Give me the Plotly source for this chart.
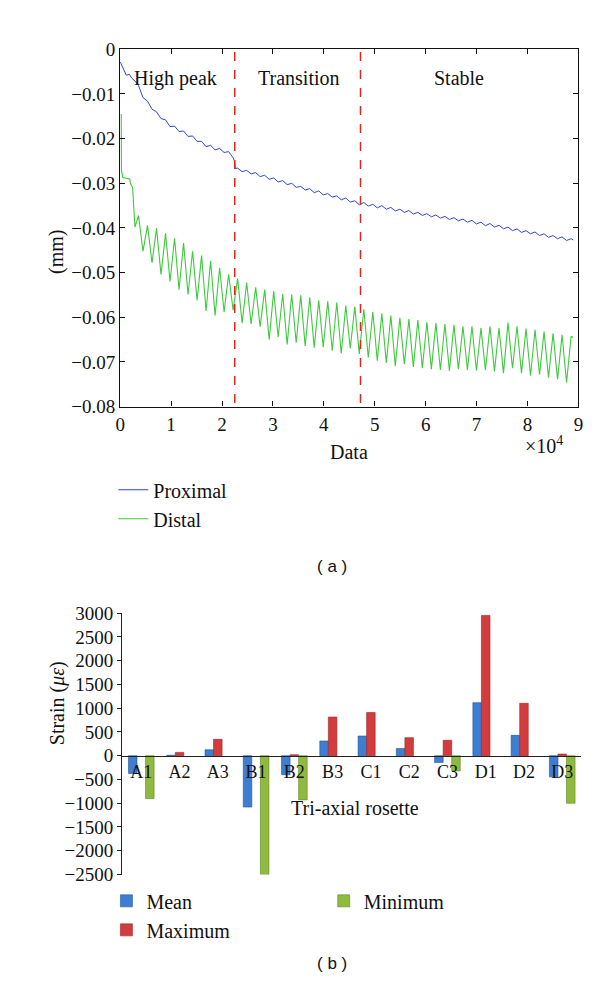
import plotly.graph_objects as go

SERIF = "Liberation Serif"
SANS = "Liberation Sans"

# ---------------- (a) displacement vs data (x in units of 1e4) ----------------
cycle_peak_x = [0.36, 0.537, 0.714, 0.891, 1.068, 1.245, 1.422, 1.599, 1.776, 1.953,
                2.13, 2.307, 2.484, 2.661, 2.838, 3.015, 3.192, 3.369, 3.546, 3.723,
                3.9, 4.077, 4.254, 4.431, 4.608, 4.785, 4.962, 5.139, 5.316, 5.493,
                5.67, 5.847, 6.024, 6.201, 6.378, 6.555, 6.732, 6.909, 7.086, 7.263,
                7.44, 7.617, 7.794, 7.971, 8.148, 8.325, 8.502, 8.679, 8.856]
cycle_trough_x = [0.448, 0.625, 0.802, 0.979, 1.156, 1.333, 1.51, 1.687, 1.864, 2.041,
                  2.218, 2.395, 2.572, 2.749, 2.926, 3.103, 3.28, 3.457, 3.634, 3.811,
                  3.988, 4.165, 4.342, 4.519, 4.696, 4.873, 5.05, 5.227, 5.404, 5.581,
                  5.758, 5.935, 6.112, 6.289, 6.466, 6.643, 6.82, 6.997, 7.174, 7.351,
                  7.528, 7.705, 7.882, 8.059, 8.236, 8.413, 8.59, 8.767]

proximal_head_x = [0.0, 0.06, 0.12, 0.18, 0.23, 0.30]
proximal_head_y = [-0.0028, -0.0045, -0.0058, -0.0056, -0.0065, -0.0072]
proximal_peak_y = [-0.0081, -0.0116, -0.0140, -0.0158, -0.0172, -0.0183, -0.0194, -0.0206,
                   -0.0215, -0.0222, -0.0229, -0.0266, -0.0271, -0.0276, -0.0282, -0.0288,
                   -0.0294, -0.0300, -0.0307, -0.0312, -0.0317, -0.0323, -0.0328, -0.0333,
                   -0.0339, -0.0343, -0.0347, -0.0350, -0.0354, -0.0358, -0.0361, -0.0365,
                   -0.0368, -0.0371, -0.0374, -0.0377, -0.0380, -0.0383, -0.0387, -0.0390,
                   -0.0394, -0.0398, -0.0402, -0.0406, -0.0409, -0.0413, -0.0417, -0.0420,
                   -0.0424]
proximal_trough_y = [-0.0108, -0.0134, -0.0155, -0.0173, -0.0184, -0.0195, -0.0206, -0.0218,
                     -0.0225, -0.0231, -0.0243, -0.0274, -0.0279, -0.0285, -0.0291, -0.0297,
                     -0.0303, -0.0309, -0.0315, -0.0321, -0.0326, -0.0331, -0.0337, -0.0342,
                     -0.0348, -0.0351, -0.0355, -0.0358, -0.0362, -0.0365, -0.0369, -0.0372,
                     -0.0375, -0.0378, -0.0381, -0.0384, -0.0387, -0.0391, -0.0395, -0.0398,
                     -0.0402, -0.0406, -0.0410, -0.0413, -0.0417, -0.0421, -0.0424, -0.0428]
proximal_step_x = [2.245, 2.262]
proximal_step_y = [-0.0250, -0.0267]
proximal_end_x = [8.90]
proximal_end_y = [-0.0427]

distal_head_x = [0.02, 0.025, 0.05, 0.19, 0.20, 0.245, 0.27, 0.29]
distal_head_y = [-0.0145, -0.0270, -0.0287, -0.0290, -0.0300, -0.0310, -0.0360, -0.0398]
distal_peak_y = [-0.0372, -0.0394, -0.0401, -0.0412, -0.0423, -0.0434, -0.0452, -0.0462,
                 -0.0474, -0.0489, -0.0504, -0.0513, -0.0522, -0.0533, -0.0538, -0.0542,
                 -0.0548, -0.0549, -0.0551, -0.0555, -0.0562, -0.0564, -0.0567, -0.0574,
                 -0.0576, -0.0582, -0.0588, -0.0591, -0.0596, -0.0601, -0.0604, -0.0606,
                 -0.0611, -0.0613, -0.0615, -0.0617, -0.0620, -0.0620, -0.0624, -0.0620,
                 -0.0624, -0.0612, -0.0620, -0.0625, -0.0628, -0.0632, -0.0636, -0.0639,
                 -0.0643]
distal_trough_y = [-0.0452, -0.0478, -0.0504, -0.0520, -0.0538, -0.0549, -0.0562, -0.0586,
                   -0.0596, -0.0588, -0.0584, -0.0613, -0.0615, -0.0621, -0.0650, -0.0644,
                   -0.0661, -0.0657, -0.0664, -0.0668, -0.0667, -0.0675, -0.0681, -0.0670,
                   -0.0682, -0.0690, -0.0697, -0.0702, -0.0709, -0.0705, -0.0711, -0.0714,
                   -0.0716, -0.0718, -0.0720, -0.0716, -0.0718, -0.0719, -0.0718, -0.0721,
                   -0.0725, -0.0714, -0.0725, -0.0731, -0.0728, -0.0735, -0.0739, -0.0746]
distal_end_x = [8.90]
distal_end_y = [-0.0645]

phase_bounds = [2.25, 4.72]
phase_names = ["High peak", "Transition", "Stable"]
phase_label_x = [1.08, 3.51, 6.65]
phase_label_y = -0.0065

top_xticks = [0, 1, 2, 3, 4, 5, 6, 7, 8, 9]
top_yticks = [0, -0.01, -0.02, -0.03, -0.04, -0.05, -0.06, -0.07, -0.08]

# ---------------- (b) strain per rosette ----------------
rosettes = ["A1", "A2", "A3", "B1", "B2", "B3", "C1", "C2", "C3", "D1", "D2", "D3"]
mean_strain = [-375, 10, 125, -1080, -400, 310, 414, 152, -145, 1117, 428, -445]
max_strain = [0, 70, 345, 0, 20, 814, 910, 380, 324, 2952, 1103, 34]
min_strain = [-900, 0, 0, -2500, -930, 0, 0, 0, -320, 0, 0, -1000]
strain_ticks = list(range(-2500, 3001, 500))


def merge(*pairs):
    pts = []
    for xs, ys in pairs:
        pts += list(zip(xs, ys))
    pts.sort()
    return [p[0] for p in pts], [p[1] for p in pts]


def nz(vals):
    # zero-height bars are not drawn in the reference
    return [v if v != 0 else None for v in vals]


prox_x, prox_y = merge((proximal_head_x, proximal_head_y),
                       (cycle_peak_x, proximal_peak_y),
                       (cycle_trough_x, proximal_trough_y),
                       (proximal_step_x, proximal_step_y),
                       (proximal_end_x, proximal_end_y))
dist_x, dist_y = merge((distal_head_x, distal_head_y),
                       (cycle_peak_x, distal_peak_y),
                       (cycle_trough_x, distal_trough_y),
                       (distal_end_x, distal_end_y))

W, H = 600, 994
def px_x(p):
    return p / W
def px_y(p):
    return 1 - p / H

top_xdom = [px_x(109), px_x(575)]
top_ydom = [px_y(397), px_y(32)]
bot_xdom = [px_x(111), px_x(578)]
bot_ydom = [px_y(875), px_y(608)]
bot_range = [-2500, 3000]
zero_pos = bot_ydom[0] + (0 - bot_range[0]) / (bot_range[1] - bot_range[0]) * (bot_ydom[1] - bot_ydom[0])

fig = go.Figure()
fig.add_trace(go.Scatter(x=prox_x, y=prox_y, mode="lines", name="Proximal",
                         line=dict(color="#2f45e0", width=1), xaxis="x", yaxis="y",
                         legend="legend"))
fig.add_trace(go.Scatter(x=dist_x, y=dist_y, mode="lines", name="Distal",
                         line=dict(color="#3ec93e", width=1.1), xaxis="x", yaxis="y",
                         legend="legend"))

fig.add_trace(go.Bar(x=rosettes, y=nz(mean_strain), name="Mean", xaxis="x2", yaxis="y2",
                     marker=dict(color="#3d7dd2", line=dict(color="#24549a", width=0.6)),
                     legend="legend2"))
fig.add_trace(go.Bar(x=rosettes, y=nz(max_strain), name="Maximum", xaxis="x2", yaxis="y2",
                     marker=dict(color="#d23c3c", line=dict(color="#9a2424", width=0.6)),
                     legend="legend2"))
fig.add_trace(go.Bar(x=rosettes, y=nz(min_strain), name="Minimum", xaxis="x2", yaxis="y2",
                     marker=dict(color="#8fba3e", line=dict(color="#5e8424", width=0.6)),
                     legend="legend3"))

shapes = []
for b in phase_bounds:
    shapes.append(dict(type="line", xref="x", yref="y", x0=b, x1=b, y0=-0.0792, y1=0,
                       line=dict(color="#e3241c", width=1.5, dash="dash")))

TXT = dict(family=SERIF, size=20, color="#111")
annotations = []
for name, lx in zip(phase_names, phase_label_x):
    annotations.append(dict(x=lx, y=phase_label_y, xref="x", yref="y", text=name,
                            showarrow=False, font=TXT))
annotations += [
    dict(x=0.5 * (top_xdom[0] + top_xdom[1]), y=px_y(443), xref="paper", yref="paper",
         text="Data", showarrow=False, font=TXT),
    dict(x=px_x(561), y=px_y(436), xref="paper", yref="paper", text="×10<sup>4</sup>",
         showarrow=False, font=TXT),
    dict(x=px_x(31), y=0.5 * (top_ydom[0] + top_ydom[1]), xref="paper", yref="paper",
         text="(mm)", textangle=-90, showarrow=False, font=TXT),
    dict(x=px_x(324), y=px_y(560), xref="paper", yref="paper", text="( a )",
         showarrow=False, font=dict(family=SANS, size=17, color="#111")),
    dict(x=px_x(31), y=px_y(745), xref="paper", yref="paper", text="Strain (<i>με</i>)",
         textangle=-90, showarrow=False, font=TXT),
    dict(x=px_x(348), y=px_y(807), xref="paper", yref="paper", text="Tri-axial rosette",
         showarrow=False, font=TXT, yanchor="middle"),
    dict(x=px_x(324), y=px_y(978), xref="paper", yref="paper", text="( b )",
         showarrow=False, font=dict(family=SANS, size=17, color="#111")),
]

axis_font = dict(family=SERIF, size=19, color="#111")
leg_font = dict(family=SERIF, size=20, color="#111")
fig.update_layout(
    width=W, height=H,
    margin=dict(l=0, r=0, t=0, b=0),
    paper_bgcolor="white", plot_bgcolor="white",
    barmode="group", bargap=0.33, bargroupgap=0,
    shapes=shapes, annotations=annotations,
    xaxis=dict(domain=top_xdom, range=[0, 9], tickvals=top_xticks, ticktext=[str(t) for t in top_xticks],
               ticks="inside", ticklen=5, tickcolor="#111", showline=True, linecolor="#111",
               linewidth=1.3, mirror="ticks", showgrid=False, zeroline=False, tickfont=axis_font,
               anchor="y"),
    yaxis=dict(domain=top_ydom, range=[-0.08, 0], tickvals=top_yticks,
               ticks="inside", ticklen=5, tickcolor="#111", showline=True, linecolor="#111",
               linewidth=1.3, mirror="ticks", showgrid=False, zeroline=False, tickfont=axis_font,
               anchor="x"),
    xaxis2=dict(domain=bot_xdom, anchor="free", position=zero_pos, showline=True,
                linecolor="#222", linewidth=1.2, ticks="", showgrid=False, zeroline=False,
                tickfont=dict(family=SERIF, size=18, color="#111")),
    yaxis2=dict(domain=bot_ydom, range=bot_range, tickvals=strain_ticks, anchor="x2",
                showline=True, linecolor="#222", linewidth=1.2, ticks="outside", ticklen=4,
                tickcolor="#222", showgrid=False, zeroline=False, tickfont=axis_font),
    legend=dict(x=px_x(102), y=px_y(462), xanchor="left", yanchor="top",
                font=leg_font, bgcolor="rgba(0,0,0,0)", tracegroupgap=0, itemwidth=30),
    legend2=dict(x=px_x(95), y=px_y(882), xanchor="left", yanchor="top",
                 font=leg_font, bgcolor="rgba(0,0,0,0)", tracegroupgap=0, itemwidth=30),
    legend3=dict(x=px_x(316), y=px_y(882), xanchor="left", yanchor="top",
                 font=leg_font, bgcolor="rgba(0,0,0,0)", tracegroupgap=0, itemwidth=30),
)

fig.write_html("out.html")
